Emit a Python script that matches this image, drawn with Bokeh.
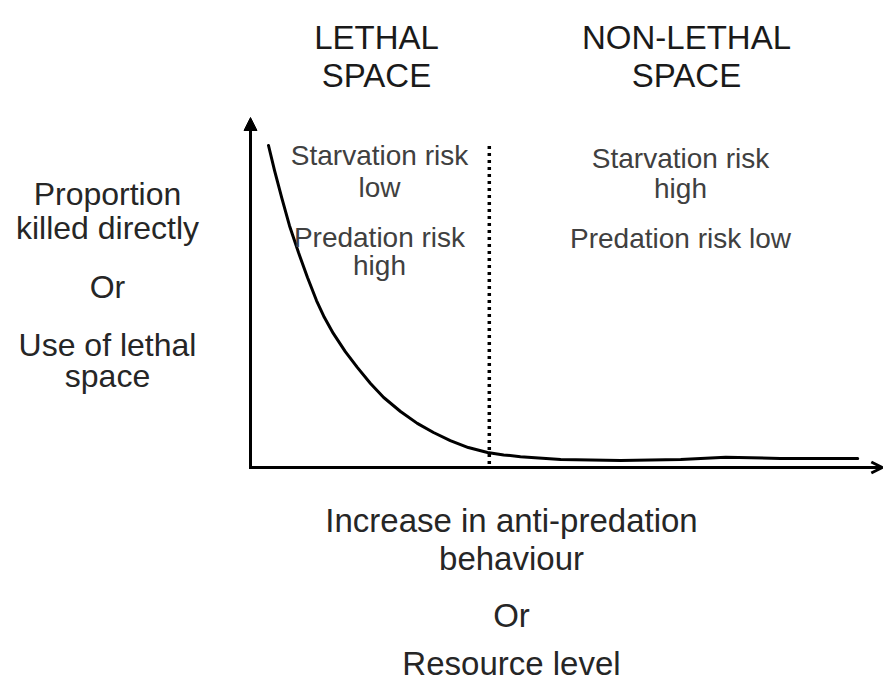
from bokeh.plotting import figure
from bokeh.models import Range1d, Label, Arrow, NormalHead, OpenHead
from bokeh.embed import file_html
from bokeh.resources import INLINE

# ---- data (conceptual units) ----
curve_x = [0.30, 0.40, 0.52, 0.65, 0.80, 0.95, 1.10, 1.23, 1.38, 1.58, 1.78,
           2.00, 2.22, 2.50, 2.78, 3.05, 3.33, 3.63, 3.95, 4.22, 4.50, 5.17,
           6.17, 7.17, 7.92, 8.83, 10.12]
curve_y = [9.20, 8.49, 7.71, 6.91, 6.14, 5.43, 4.77, 4.29, 3.83, 3.31, 2.86,
           2.40, 2.00, 1.60, 1.26, 1.00, 0.77, 0.57, 0.43, 0.36, 0.31, 0.23,
           0.20, 0.23, 0.29, 0.26, 0.26]
threshold_x = 3.98
threshold_top = 9.26
y_axis_top = 10.0
x_axis_end = 10.53

lethal_header = ["LETHAL", "SPACE"]
nonlethal_header = ["NON-LETHAL", "SPACE"]
y_label_lines = ["Proportion", "killed directly", "Or", "Use of lethal", "space"]
x_label_lines = ["Increase in anti-predation", "behaviour", "Or", "Resource level"]
lethal_notes = ["Starvation risk", "low", "Predation risk", "high"]
nonlethal_notes = ["Starvation risk", "high", "Predation risk low"]

# ---- layout helpers (picture pixel -> data) ----
W, H = 883, 682
OX, OY, SX, SY = 250.0, 467.0, 60.0, 35.0


def dx(px):
    return (px - OX) / SX


def dy(py):
    return (OY - py) / SY


p = figure(width=W, height=H, output_backend="svg", toolbar_location=None,
           x_range=Range1d(dx(0), dx(W)), y_range=Range1d(dy(H), dy(0)),
           min_border=0, outline_line_color=None, background_fill_color="white",
           border_fill_color="white")
p.xaxis.visible = False
p.yaxis.visible = False
p.xgrid.visible = False
p.ygrid.visible = False

# axes as arrows
p.add_layout(Arrow(end=NormalHead(size=13, fill_color="black", line_color="black", line_width=1),
                   x_start=0, y_start=-0.045, x_end=0, y_end=y_axis_top,
                   line_color="black", line_width=3))
p.add_layout(Arrow(end=OpenHead(size=11, line_color="black", line_width=3),
                   x_start=-0.025, y_start=0, x_end=x_axis_end, y_end=0,
                   line_color="black", line_width=3))

# threshold dotted line
p.line([threshold_x, threshold_x], [0.1, threshold_top], line_color="black",
       line_width=3.5, line_dash="3 4")

# curve
p.line(curve_x, curve_y, line_color="black", line_width=3, line_join="round",
       line_cap="round")


def put(text, cx, by, size, color="#333333", font="Liberation Sans"):
    p.add_layout(Label(x=dx(cx), y=dy(by), text=text, text_align="center",
                       text_baseline="alphabetic", text_font=font,
                       text_font_size=f"{size}px", text_color=color))


for t, b in zip(lethal_header, [37, 75]):
    put(t, 376, b, 33, "#1a1a1a")
for t, b in zip(nonlethal_header, [37, 75]):
    put(t, 686, b, 33, "#1a1a1a")
for t, b in zip(y_label_lines, [193, 227, 286, 344, 375]):
    put(t, 107, b, 32, "#262626")
for t, b in zip(x_label_lines, [520, 558, 615, 663]):
    put(t, 511, b, 33, "#262626")
for t, b in zip(lethal_notes, [155, 187, 237, 265]):
    put(t, 379, b, 28, "#404040")
for t, b in zip(nonlethal_notes, [158, 188, 238]):
    put(t, 680, b, 28, "#404040")

open("out.html", "w").write(file_html(p, INLINE))
